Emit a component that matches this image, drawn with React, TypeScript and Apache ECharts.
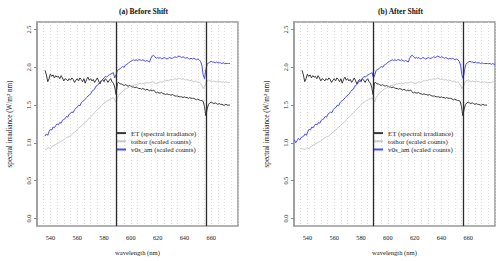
import { useEffect, useRef } from 'react';
import * as echarts from 'echarts';

const FONT = "'Liberation Serif', 'Times New Roman', serif";

// wavelength grid (nm) of the ET / measured spectra, 1 nm step starting here
const WL_START = 536;

// ET (spectral irradiance), 536..674 nm
const etValues = [
  1.96, 1.90, 1.81, 1.85, 1.91, 1.88, 1.90, 1.86, 1.89, 1.87,
  1.88, 1.85, 1.89, 1.86, 1.82, 1.85, 1.84, 1.82, 1.85, 1.83,
  1.86, 1.84, 1.80, 1.83, 1.85, 1.82, 1.86, 1.84, 1.81, 1.85,
  1.79, 1.84, 1.87, 1.83, 1.85, 1.82, 1.84, 1.80, 1.83, 1.86,
  1.82, 1.78, 1.82, 1.84, 1.81, 1.85, 1.83, 1.80, 1.83, 1.85,
  1.81, 1.79, 1.74, 1.64, 1.79, 1.80, 1.78, 1.78, 1.77, 1.76,
  1.77, 1.76, 1.75, 1.76, 1.75, 1.74, 1.74, 1.73, 1.74, 1.73,
  1.72, 1.72, 1.71, 1.72, 1.71, 1.70, 1.71, 1.70, 1.69, 1.70,
  1.69, 1.70, 1.68, 1.66, 1.67, 1.66, 1.66, 1.67, 1.65, 1.65,
  1.64, 1.65, 1.64, 1.64, 1.63, 1.64, 1.63, 1.62, 1.62, 1.62,
  1.61, 1.61, 1.61, 1.60, 1.61, 1.60, 1.60, 1.59, 1.60, 1.59,
  1.59, 1.59, 1.58, 1.57, 1.58, 1.57, 1.56, 1.56, 1.55, 1.48,
  1.36, 1.45, 1.51, 1.53, 1.54, 1.53, 1.52, 1.53, 1.52, 1.51,
  1.52, 1.51, 1.51, 1.50, 1.50, 1.51, 1.50, 1.50, 1.50,
];

// tothor (scaled counts), 536..674 nm
const tothorValues = [
  0.92, 0.91, 0.93, 0.94, 0.92, 0.95, 0.96, 0.97, 0.98, 0.99,
  1.00, 1.01, 1.02, 1.03, 1.04, 1.06, 1.07, 1.08, 1.08, 1.10,
  1.11, 1.13, 1.14, 1.16, 1.17, 1.19, 1.21, 1.22, 1.24, 1.26,
  1.27, 1.29, 1.31, 1.33, 1.34, 1.36, 1.38, 1.40, 1.42, 1.44,
  1.45, 1.47, 1.49, 1.51, 1.53, 1.54, 1.55, 1.56, 1.57, 1.58,
  1.59, 1.60, 1.57, 1.54, 1.60, 1.63, 1.65, 1.67, 1.68, 1.70,
  1.71, 1.72, 1.73, 1.74, 1.75, 1.76, 1.76, 1.77, 1.77, 1.78,
  1.78, 1.79, 1.78, 1.79, 1.78, 1.79, 1.80, 1.79, 1.80, 1.80,
  1.81, 1.80, 1.79, 1.78, 1.79, 1.80, 1.81, 1.80, 1.81, 1.82,
  1.82, 1.83, 1.82, 1.83, 1.84, 1.83, 1.84, 1.85, 1.84, 1.85,
  1.86, 1.85, 1.84, 1.85, 1.84, 1.83, 1.84, 1.83, 1.82, 1.83,
  1.82, 1.81, 1.82, 1.81, 1.80, 1.81, 1.79, 1.76, 1.72, 1.74,
  1.79, 1.82, 1.83, 1.82, 1.82, 1.81, 1.82, 1.81, 1.81, 1.82,
  1.81, 1.81, 1.80, 1.81, 1.80, 1.81, 1.80, 1.80, 1.80,
];

// v0s_am (scaled counts), 536..674 nm
const v0sValues = [
  1.09, 1.12, 1.10, 1.15, 1.18, 1.17, 1.21, 1.20, 1.23, 1.25,
  1.24, 1.27, 1.26, 1.30, 1.31, 1.32, 1.35, 1.34, 1.38, 1.39,
  1.41, 1.40, 1.44, 1.46, 1.47, 1.50, 1.49, 1.53, 1.55, 1.56,
  1.58, 1.60, 1.62, 1.63, 1.65, 1.68, 1.70, 1.71, 1.75, 1.76,
  1.78, 1.81, 1.82, 1.84, 1.86, 1.88, 1.87, 1.89, 1.90, 1.91,
  1.92, 1.93, 1.86, 1.90, 1.96, 1.97, 1.98, 2.00, 2.01, 2.00,
  2.03, 2.04, 2.05, 2.07, 2.08, 2.09, 2.10, 2.09, 2.10, 2.09,
  2.10, 2.10, 2.09, 2.10, 2.09, 2.08, 2.09, 2.08, 2.07, 2.12,
  2.15, 2.16, 2.14, 2.12, 2.13, 2.12, 2.13, 2.11, 2.12, 2.13,
  2.12, 2.11, 2.12, 2.13, 2.12, 2.12, 2.13, 2.14, 2.13, 2.14,
  2.15, 2.14, 2.13, 2.14, 2.13, 2.12, 2.13, 2.12, 2.11, 2.12,
  2.11, 2.12, 2.11, 2.10, 2.11, 2.10, 2.08, 2.03, 1.90, 1.85,
  1.97, 2.04, 2.06, 2.07, 2.08, 2.07, 2.07, 2.06, 2.07, 2.06,
  2.06, 2.06, 2.05, 2.06, 2.05, 2.05, 2.05, 2.05, 2.05,
];

// After-shift panel: measured spectra are moved by this many nm,
// and extend a little further on both sides than in panel (a)
const SHIFT_NM = 1.3;
const v0sPrefix = [1.04, 1.00, 1.03, 1.06, 1.04, 1.07, 1.08]; // 529..535 nm
const v0sSuffix = [2.05, 2.04, 2.05, 2.04, 2.04]; // 675..679 nm
const tothorPrefix = [0.93, 0.92]; // 534..535 nm
const tothorSuffix = [1.80, 1.80, 1.81, 1.80, 1.80]; // 675..679 nm

// absorption lines (Na D, H-alpha)
const lineMarks = [589.0, 656.3];

const X_LABELS = [540, 560, 580, 600, 620, 640, 660];
const Y_TICKS = [0, 0.5, 1.0, 1.5, 2.0, 2.5];

const SERIES_NAMES = ['ET (spectral irradiance)', 'tothor (scaled counts)', 'v0s_am (scaled counts)'];
const COLORS = ['#383838', '#c8c8c8', '#4a4aff'];
const TITLES = ['(a) Before Shift', '(b) After Shift'];

const pairs = (start: number, vals: number[], shift = 0) =>
  vals.map((v, i) => [start + i + shift, v]);

const GRID_LEFT = [37, 294];
const GRID_W = 201;

function buildOption() {
  const grids = GRID_LEFT.map((l) => ({
    left: l, top: 22, width: GRID_W, height: 204, show: true,
    borderColor: '#999', borderWidth: 1.5, backgroundColor: 'transparent',
  }));
  const xAxes = GRID_LEFT.map((_, i) => ({
    type: 'value', gridIndex: i, min: 530, max: 680, interval: 5,
    axisLine: { show: false }, axisTick: { show: false },
    splitLine: { show: true, lineStyle: { color: '#d4d4d4', width: 0.8, type: [1, 2] } },
    axisLabel: { customValues: X_LABELS, fontFamily: FONT, fontSize: 6.3, color: '#222', margin: 8 },
    name: 'wavelength (nm)', nameLocation: 'middle', nameGap: 23,
    nameTextStyle: { fontFamily: FONT, fontSize: 6.6, color: '#222' },
  }));
  const yAxes = GRID_LEFT.map((_, i) => ({
    type: 'value', gridIndex: i, min: -0.1, max: 2.6,
    axisLine: { show: true, lineStyle: { color: '#999', width: 1.5 } },
    axisTick: { show: true, customValues: Y_TICKS, length: 3, lineStyle: { color: '#888' } },
    splitLine: { show: false },
    axisLabel: {
      customValues: Y_TICKS, rotate: 90, fontFamily: FONT, fontSize: 6.3, color: '#222', margin: 6,
      formatter: (v: number) => v.toFixed(1),
    },
    name: 'spectral irradiance (W/m² nm)', nameLocation: 'middle', nameGap: 24, nameRotate: 90,
    nameTextStyle: { fontFamily: FONT, fontSize: 7.2, color: '#222' },
  }));

  const panelData = [
    [pairs(WL_START, etValues), pairs(WL_START, tothorValues), pairs(WL_START, v0sValues)],
    [
      pairs(WL_START, etValues),
      pairs(WL_START - tothorPrefix.length, [...tothorPrefix, ...tothorValues, ...tothorSuffix], SHIFT_NM),
      pairs(WL_START - v0sPrefix.length, [...v0sPrefix, ...v0sValues, ...v0sSuffix], SHIFT_NM),
    ],
  ];

  const series: any[] = [];
  panelData.forEach((sets, p) => {
    sets.forEach((data, k) => {
      const s: any = {
        type: 'line', name: SERIES_NAMES[k], xAxisIndex: p, yAxisIndex: p, data,
        showSymbol: false, symbol: 'none', clip: true, z: 3 + k,
        lineStyle: { color: COLORS[k], width: 1 }, itemStyle: { color: COLORS[k] },
      };
      if (k === 0) {
        s.markLine = {
          symbol: 'none', silent: true, label: { show: false }, z: 10,
          lineStyle: { color: '#2a2a2a', width: 1.3, type: 'solid' },
          data: lineMarks.map((x) => ({ xAxis: x })),
        };
      }
      series.push(s);
    });
  });

  const legends = [117, 374].map((l) => ({
    left: l, top: 129, orient: 'vertical', padding: 0, itemGap: 0,
    itemWidth: 9, itemHeight: 2, icon: 'rect',
    textStyle: { fontFamily: FONT, fontSize: 6.9, color: '#222', lineHeight: 8.2 },
    data: SERIES_NAMES,
  }));

  const titles = TITLES.map((t, i) => ({
    text: t, left: GRID_LEFT[i] + GRID_W / 2 + 1, top: 2, textAlign: 'center',
    textStyle: { fontFamily: FONT, fontSize: 7.5, fontWeight: 'bold', color: '#111' },
  }));

  return {
    animation: false,
    backgroundColor: '#fff',
    title: titles,
    legend: legends,
    grid: grids,
    xAxis: xAxes,
    yAxis: yAxes,
    series,
  };
}

export default function App() {
  const ref = useRef<HTMLDivElement>(null);
  useEffect(() => {
    document.body.style.margin = '0';
    const chart = echarts.init(ref.current!, null, { renderer: 'svg' });
    chart.setOption(buildOption() as any);
    return () => chart.dispose();
  }, []);
  return (
    <div
      ref={ref}
      style={{ position: 'fixed', left: 0, top: 0, width: 500, height: 261, background: '#fff' }}
    />
  );
}
